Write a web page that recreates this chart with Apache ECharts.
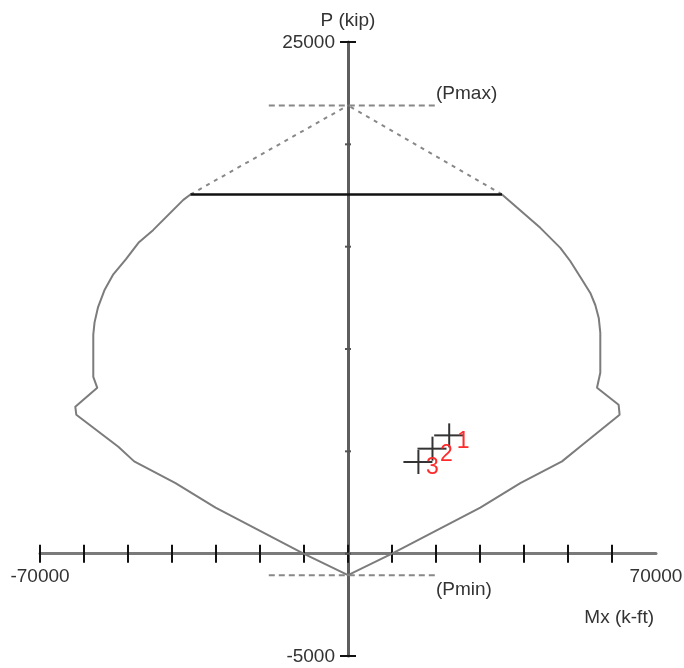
<!DOCTYPE html>
<html>
<head>
<meta charset="utf-8">
<script src="https://cdn.jsdelivr.net/npm/echarts@6/dist/echarts.min.js"></script>
<style>
  html, body { margin: 0; padding: 0; background: #fff; }
  #chart { width: 684px; height: 668px; }
</style>
</head>
<body>
<div id="chart"></div>
<script>
// interaction diagram outline, left cap end -> down -> bottom -> up -> right cap end
const curveMx = [-35800, -37430, -44250, -47500, -50500, -53340, -55300, -56800, -57600, -57890, -57890, -56980, -61980, -61750,
  -52200, -48600, -39200, -30100, -10100, 0, 10000, 30070, 39160, 48640, 52800, 61730, 61500,
  56590, 57340, 57340, 57000, 56200, 55070, 52800, 50500, 48250, 43700, 35000];
const curveP = [17550, 17285, 15820, 15220, 14380, 13650, 12900, 12050, 11300, 10700, 8640, 8105, 7180, 6790,
  5225, 4510, 3450, 2250, 0, -1050, 0, 2250, 3450, 4510, 5240, 6790, 7280,
  8105, 8840, 10800, 11500, 12150, 12740, 13520, 14300, 14940, 15920, 17550];

const capMx = [-35800, 35000];
const capP = 17550;
const pMax = 21900;
const pMin = -1050;
const limitMx = [-18000, 20000];

// load points
const pointMx = [23000, 19200, 16000];
const pointP = [5780, 5130, 4480];
const pointLabels = ['1', '2', '3'];

const xTicks = [-70000, -60000, -50000, -40000, -30000, -20000, -10000, 0, 10000, 20000, 30000, 40000, 50000, 60000];
const yEndTicks = [-5000, 25000];
const yMinorTicks = [0, 5000, 10000, 15000, 20000];
const xLabels = [-70000, 70000];
const yLabels = [-5000, 25000];

const FONT = 'Liberation Sans, Arial, sans-serif';

const chart = echarts.init(document.getElementById('chart'));

const curveData = curveMx.map((m, i) => [m, curveP[i]]);
const pointData = pointMx.map((m, i) => [m, pointP[i]]);
// kind: 0 x tick, 1 y end tick, 2 y minor tick, 3 x label, 4 y label
const axisData = []
  .concat(xTicks.map(v => [v, 0]))
  .concat(yEndTicks.map(v => [v, 1]))
  .concat(yMinorTicks.map(v => [v, 2]))
  .concat(xLabels.map(v => [v, 3]))
  .concat(yLabels.map(v => [v, 4]));

function renderAxisBits(params, api) {
  const v = api.value(0);
  const kind = api.value(1);
  if (kind === 0) {
    const c = api.coord([v, 0]);
    return { type: 'line', shape: { x1: c[0], y1: c[1] - 9, x2: c[0], y2: c[1] + 9 },
      style: { stroke: '#111', lineWidth: 2 } };
  }
  if (kind === 3) {
    const c = api.coord([v, 0]);
    return { type: 'text', x: c[0], y: c[1] + 23,
      style: { text: String(v), fill: '#333', font: '19px ' + FONT, align: 'center', verticalAlign: 'middle' } };
  }
  const c = api.coord([0, v]);
  if (kind === 4) {
    return { type: 'text', x: c[0] - 13, y: c[1] + 1,
      style: { text: String(v), fill: '#333', font: '19px ' + FONT, align: 'right', verticalAlign: 'middle' } };
  }
  const half = kind === 1 ? 8 : 3;
  return { type: 'line', shape: { x1: c[0] - half, y1: c[1], x2: c[0] + half, y2: c[1] },
    style: { stroke: kind === 1 ? '#111' : '#555', lineWidth: 2 } };
}

function renderCross(params, api) {
  const c = api.coord([api.value(0), api.value(1)]);
  return {
    type: 'group',
    children: [
      { type: 'line', shape: { x1: c[0] - 15, y1: c[1], x2: c[0] + 14, y2: c[1] }, style: { stroke: '#333', lineWidth: 2 } },
      { type: 'line', shape: { x1: c[0], y1: c[1] - 12, x2: c[0], y2: c[1] + 12 }, style: { stroke: '#333', lineWidth: 2 } },
      { type: 'text', x: c[0] + 14, y: c[1] + 6, z2: 10,
        style: { text: pointLabels[params.dataIndex], fill: '#ff2a2a', font: '23px ' + FONT, align: 'center', verticalAlign: 'middle' } }
    ]
  };
}

const option = {
  animation: false,
  backgroundColor: '#fff',
  grid: { left: 40, right: 28, top: 42, bottom: 12, outerBoundsMode: 'none', containLabel: false },
  xAxis: {
    type: 'value',
    min: -70000,
    max: 70000,
    interval: 10000,
    axisLine: { onZero: true, lineStyle: { color: '#7a7a7a', width: 3 } },
    axisTick: { show: false },
    splitLine: { show: false },
    axisLabel: { show: false }
  },
  yAxis: {
    type: 'value',
    min: -5000,
    max: 25000,
    interval: 5000,
    name: 'P (kip)',
    nameLocation: 'end',
    nameGap: 12,
    nameTextStyle: { fontSize: 19, color: '#333', fontFamily: FONT, align: 'center' },
    axisLine: { onZero: true, lineStyle: { color: '#5e5e5e', width: 3 } },
    axisTick: { show: false },
    splitLine: { show: false },
    axisLabel: { show: false }
  },
  graphic: [
    { type: 'text', right: 30, top: 608, style: { text: 'Mx (k-ft)', fill: '#333', font: '19px ' + FONT } }
  ],
  series: [
    {
      name: 'axisBits',
      type: 'custom',
      renderItem: renderAxisBits,
      data: axisData,
      silent: true,
      clip: false,
      z: 3
    },
    {
      name: 'Pmax',
      type: 'line',
      data: limitMx.map(m => [m, pMax]),
      showSymbol: false,
      lineStyle: { color: '#888', width: 2, type: [6, 4] },
      endLabel: { show: true, formatter: '(Pmax)', fontSize: 19, color: '#333', fontFamily: FONT, distance: 0, offset: [0, -12] }
    },
    {
      name: 'Pmin',
      type: 'line',
      data: limitMx.map(m => [m, pMin]),
      showSymbol: false,
      lineStyle: { color: '#888', width: 2, type: [6, 4] },
      endLabel: { show: true, formatter: '(Pmin)', fontSize: 19, color: '#333', fontFamily: FONT, distance: 0, offset: [0, 15] }
    },
    {
      name: 'diagLeft',
      type: 'line',
      data: [[capMx[0], capP], [0, pMax]],
      showSymbol: false,
      lineStyle: { color: '#888', width: 2, type: [4, 5] }
    },
    {
      name: 'diagRight',
      type: 'line',
      data: [[capMx[1], capP], [0, pMax]],
      showSymbol: false,
      lineStyle: { color: '#888', width: 2, type: [4, 5] }
    },
    {
      name: 'curve',
      type: 'line',
      data: curveData,
      showSymbol: false,
      lineStyle: { color: '#7c7c7c', width: 2 }
    },
    {
      name: 'cap',
      type: 'line',
      data: capMx.map(m => [m, capP]),
      showSymbol: false,
      lineStyle: { color: '#111', width: 2.5 }
    },
    {
      name: 'points',
      type: 'custom',
      renderItem: renderCross,
      data: pointData,
      z: 5
    }
  ]
};

chart.setOption(option);
</script>
</body>
</html>
